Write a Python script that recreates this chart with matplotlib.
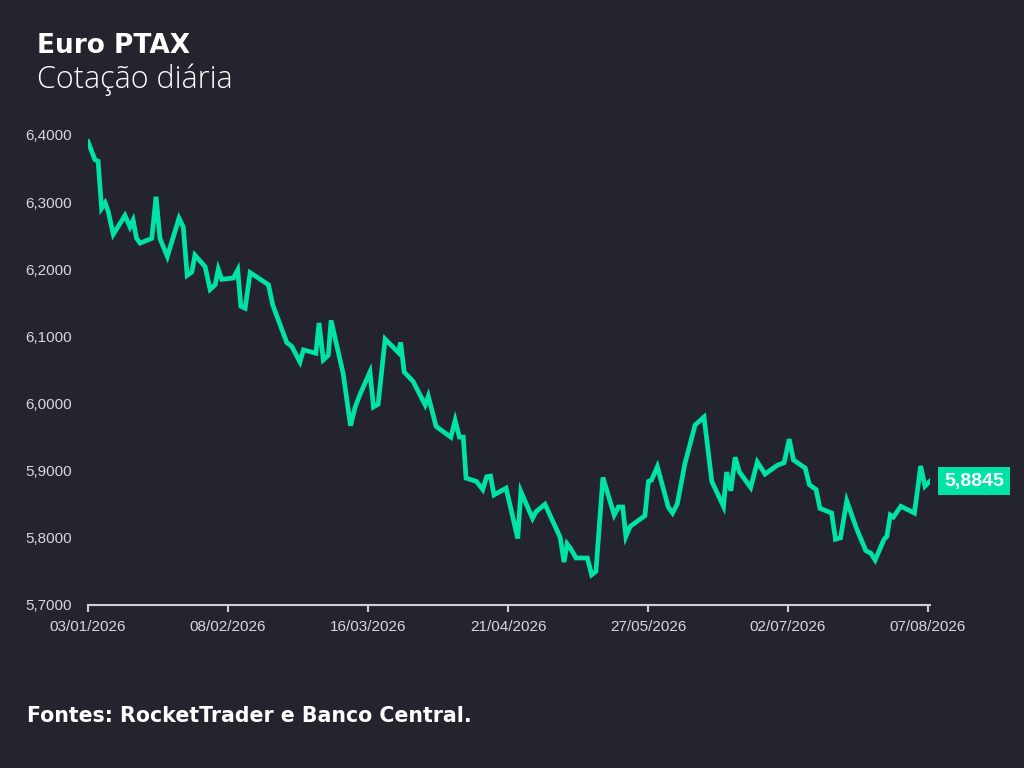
import pandas as pd
import matplotlib
matplotlib.use('Agg')
import matplotlib.pyplot as plt
import matplotlib.dates as mdates
from matplotlib.ticker import FuncFormatter

# dias desde 03/01/2026 e cotação
start = pd.Timestamp('2026-01-03')
day_offsets = [0, 1.8, 2.6, 3.5, 4.4, 5.2, 6.5, 9.5, 10.8, 11.6, 12.5, 13.4, 16.4, 17.5, 18.5,
               20.4, 23.4, 24.5, 25.5, 26.7, 27.5, 30.1, 31.4, 32.7, 33.5, 34.4, 37.4, 38.5,
               39.3, 40.4, 41.7, 46.4, 47.5, 51.1, 52.4, 54.5, 55.4, 58.6, 59.4, 60.5, 61.8,
               62.5, 65.6, 67.5, 68.7, 69.9, 72.5, 73.4, 74.6, 76.4, 79.8, 80.4, 81.3, 83.6,
               86.7, 87.5, 89.5, 93.3, 94.4, 95.5, 96.5, 97.2, 99.9, 101.5, 102.5, 103.5,
               104.4, 107.5, 110.5, 111.3, 114.3, 115.2, 117.5, 121.4, 122.4, 123.2, 124.1,
               125.5, 128.4, 129.5, 130.6, 132.4, 135.3, 136.4, 137.5, 138.3, 139.4, 143.2,
               144.1, 144.9, 146.4, 149.2, 150.3, 151.5, 153.5, 156.1, 158.4, 160.4, 163.4,
               164.2, 165.3, 166.4, 167.5, 170.4, 172.1, 174.1, 177.2, 179.0, 180.3, 181.4,
               184.4, 185.5, 187.2, 188.2, 191.2, 192.2, 193.5, 195.1, 197.6, 200.0, 201.3,
               202.4, 204.7, 205.4, 206.3, 207.1, 209.0, 212.5, 214.1, 215.2, 216.5]
values = [6.390, 6.363, 6.361, 6.291, 6.299, 6.286, 6.252, 6.280, 6.263, 6.273, 6.246, 6.239,
          6.246, 6.308, 6.246, 6.219, 6.276, 6.263, 6.191, 6.196, 6.221, 6.204, 6.170, 6.177,
          6.200, 6.185, 6.187, 6.199, 6.145, 6.142, 6.195, 6.177, 6.147, 6.091, 6.085, 6.062,
          6.080, 6.075, 6.120, 6.065, 6.072, 6.124, 6.045, 5.967, 5.995, 6.013, 6.047, 5.995,
          5.999, 6.096, 6.076, 6.091, 6.047, 6.033, 5.998, 6.011, 5.966, 5.950, 5.975, 5.950,
          5.950, 5.889, 5.884, 5.872, 5.891, 5.892, 5.864, 5.874, 5.799, 5.869, 5.829, 5.839,
          5.850, 5.801, 5.764, 5.791, 5.784, 5.770, 5.770, 5.745, 5.750, 5.890, 5.834, 5.846,
          5.846, 5.802, 5.817, 5.833, 5.884, 5.886, 5.906, 5.846, 5.837, 5.850, 5.911, 5.968,
          5.980, 5.884, 5.847, 5.898, 5.870, 5.920, 5.898, 5.875, 5.913, 5.895, 5.908, 5.912,
          5.947, 5.916, 5.904, 5.879, 5.872, 5.844, 5.837, 5.798, 5.800, 5.855, 5.814, 5.781,
          5.777, 5.767, 5.798, 5.802, 5.834, 5.831, 5.847, 5.837, 5.907, 5.877, 5.8845]
tick_dates = ['2026-01-03', '2026-02-08', '2026-03-16', '2026-04-21', '2026-05-27',
              '2026-07-02', '2026-08-07']
y_ticks = [5.7, 5.8, 5.9, 6.0, 6.1, 6.2, 6.3, 6.4]

bg = '#24242f'
green = '#00e3a6'
dates = start + pd.to_timedelta(day_offsets, unit='D')

fig = plt.figure(figsize=(10.24, 7.68), dpi=100, facecolor=bg)
ax = fig.add_axes([88 / 1024, 1 - 605 / 768, (930 - 88) / 1024, 470 / 768])
ax.set_facecolor(bg)
ax.plot(dates, values, color=green, lw=3.4, solid_joinstyle='miter')

ax.set_xlim(dates[0], dates[-1])
ax.set_ylim(5.7, 6.4)
ax.set_xticks(pd.to_datetime(tick_dates))
ax.xaxis.set_major_formatter(mdates.DateFormatter('%d/%m/%Y'))
ax.set_yticks(y_ticks)
ax.yaxis.set_major_formatter(FuncFormatter(lambda v, p: f'{v:.4f}'.replace('.', ',')))

for s in ['top', 'right', 'left']:
    ax.spines[s].set_visible(False)
ax.spines['bottom'].set_color('#d0d0d0')
ax.spines['bottom'].set_linewidth(1.5)
ax.tick_params(axis='x', colors='#d0d0d0', length=5, width=1.5, labelsize=11, pad=6)
ax.tick_params(axis='y', length=0, labelcolor='#d8d8d8', labelsize=11, pad=11.5)
for lbl in ax.get_xticklabels() + ax.get_yticklabels():
    lbl.set_fontfamily('Liberation Sans')
    lbl.set_color('#d8d8d8')

# rótulo do último valor
ax.annotate(f'{values[-1]:.4f}'.replace('.', ','), xy=(dates[-1], values[-1]),
            xytext=(10, 0), textcoords='offset points', ha='left', va='center',
            color='white', fontsize=14, fontweight='bold', family='Liberation Sans',
            bbox=dict(boxstyle='square,pad=0.3', fc=green, ec='none'),
            annotation_clip=False)

fig.text(37 / 1024, 1 - 46 / 768, 'Euro PTAX', color='white', fontsize=19,
         fontweight='bold', family='DejaVu Sans', va='center')
fig.text(37 / 1024, 1 - 80 / 768, 'Cotação diária', color='white', fontsize=22,
         fontweight='light', family='Open Sans', va='center')
fig.text(27 / 1024, 1 - 716 / 768, 'Fontes: RocketTrader e Banco Central.', color='white',
         fontsize=14.8, fontweight='bold', family='DejaVu Sans', va='center')

fig.savefig('out.png', dpi=100, facecolor=bg)
